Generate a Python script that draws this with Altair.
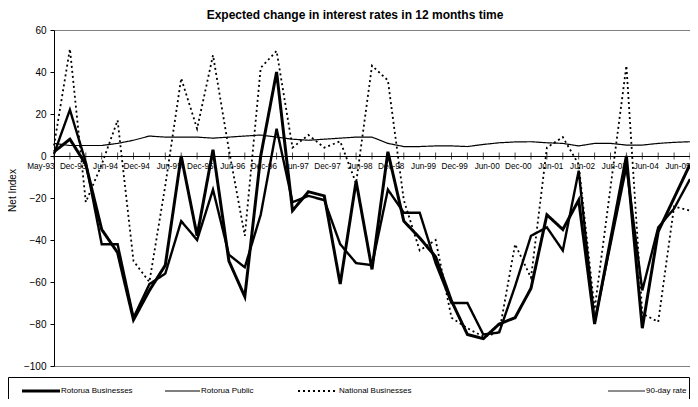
import altair as alt
import pandas as pd

periods = ["May-93","Sep-93","Dec-93","Mar-94","Jun-94","Sep-94","Dec-94","Mar-95","Jun-95","Sep-95",
           "Dec-95","Mar-96","Jun-96","Sep-96","Dec-96","Mar-97","Jun-97","Sep-97","Dec-97","Mar-98",
           "Jun-98","Sep-98","Dec-98","Mar-99","Jun-99","Sep-99","Dec-99","Mar-00","Jun-00","Sep-00",
           "Dec-00","Mar-01","Jun-01","Dec-01","Jun-02","Dec-02","Jun-03","Dec-03","Jun-04","Dec-04","Jun-05"]

tick_labels = ["May-93","Dec-93","Jun-94","Dec-94","Jun-95","Dec-95","Jun-96","Dec-96","Jun-97","Dec-97",
               "Jun-98","Dec-98","Jun-99","Dec-99","Jun-00","Dec-00","Jun-01","Jun-02","Jun-03","Jun-04","Jun-05"]

y_ticks = [60, 40, 20, 0, -20, -40, -60, -80, -100]

series_names = ["Rotorua Businesses", "Rotorua Public", "National Businesses", "90-day rate"]

rotorua_businesses = [2, 8, -4, -35, -46, -78, -64, -52, 0, -38,
                      3, -50, -67, 0, 40, -26, -17, -19, -61, -12,
                      -54, 2, -31, -39, -48, -69, -85, -87, -80, -77,
                      -63, -28, -35, -21, -80, -40, 0, -82, -36, -20, -4]

rotorua_public = [1, 22, -3, -42, -42, -77, -61, -56, -31, -40,
                  -16, -47, -53, -28, 13, -22, -19, -21, -42, -51,
                  -52, -16, -27, -27, -51, -70, -70, -85, -84, -62,
                  -38, -34, -45, -7, -79, -42, -5, -64, -34, -25, -11]

national_businesses = [5, 51, -22, -4, 17, -50, -60, -14, 37, 13,
                       48, 3, -38, 42, 50, 4, 10, 4, 7, -13,
                       43, 36, -21, -45, -40, -77, -82, -86, -84, -42,
                       -58, 4, 9, -4, -73, -15, 43, -75, -79, -24, -26]

rate_90day = [6, 5, 5, 5, 6, 7.5, 9.5, 9, 9, 9,
              8.5, 9, 9.5, 10, 9, 8, 7.5, 8, 8.5, 9,
              9, 6, 4.5, 4.5, 4.8, 4.8, 4.5, 5.5, 6.3, 6.7,
              6.8, 6.3, 6, 4.8, 6, 6, 5.2, 5.2, 6, 6.5, 6.8]

rows = []
for name, vals in zip(series_names, [rotorua_businesses, rotorua_public, national_businesses, rate_90day]):
    for p, v in zip(periods, vals):
        rows.append({"period": p, "series": name, "value": v})
df = pd.DataFrame(rows)
ticks_df = pd.DataFrame({"period": periods})
one = pd.DataFrame({"k": [0]})

FONT = "Liberation Sans"

x_enc = alt.X("period:O", sort=periods,
              scale=alt.Scale(type="point", padding=0),
              axis=alt.Axis(values=tick_labels, title=None, labelAngle=0, labelOverlap=False,
                            ticks=False, tickSize=0, labelPadding=10, offset=-210,
                            domainColor="black", domainWidth=1, grid=False,
                            labelFont=FONT, labelFontSize=8.2, labelColor="black"))
y_enc = alt.Y("value:Q",
              scale=alt.Scale(domain=[-100, 60], nice=False, zero=False),
              axis=alt.Axis(values=y_ticks, title="Net Index", grid=False, tickSize=4, labelPadding=4,
                            domainColor="black", tickColor="black", labelColor="black",
                            labelFont=FONT, labelFontSize=10,
                            titleFont=FONT, titleFontSize=10, titleFontWeight="normal", titleColor="black",
                            titleX=-42, titleY=160, titleAlign="center", titleBaseline="middle", titleAngle=270))

lines = alt.Chart(df).mark_line(color="black", strokeJoin="miter").encode(
    x=x_enc,
    y=y_enc,
    detail="series:N",
    strokeWidth=alt.StrokeWidth("series:N", scale=alt.Scale(domain=series_names, range=[3, 1.2, 2, 0.9]), legend=None),
    strokeDash=alt.StrokeDash("series:N", scale=alt.Scale(domain=series_names, range=[[1, 0], [1, 0], [2, 3], [1, 0]]), legend=None),
)

xticks = alt.Chart(ticks_df).mark_tick(orient="vertical", size=7, thickness=1, color="black").encode(
    x=alt.X("period:O", sort=periods),
    y=alt.datum(0),
)

# legend (drawn below the plot)
leg_y = 361
legend_layers = [
    alt.Chart(one).mark_rect(fillOpacity=0, stroke="black", strokeWidth=1).encode(
        x=alt.value(-45.5), x2=alt.value(635.5), y=alt.value(347.5), y2=alt.value(420)),
]
legend_items = [
    ("Rotorua Businesses", -32, 6, 3, [1, 0]),
    ("Rotorua Public", 111, 146, 1.2, [1, 0]),
    ("National Businesses", 244, 284, 2, [2, 3]),
    ("90-day rate", 554, 591, 0.9, [1, 0]),
]
for label, x1, x2, w, dash in legend_items:
    legend_layers.append(
        alt.Chart(one).mark_rule(color="black", strokeWidth=w, strokeDash=dash).encode(
            x=alt.value(x1), x2=alt.value(x2), y=alt.value(leg_y)))
    legend_layers.append(
        alt.Chart(one).mark_text(text=label, align="left", baseline="middle", font=FONT,
                                 fontSize=8, color="black").encode(
            x=alt.value(x2 + 1), y=alt.value(leg_y)))

chart = alt.layer(xticks, lines, *legend_layers).properties(
    width=636, height=336,
    autosize=alt.AutoSizeParams(type="none"),
    padding={"left": 46, "top": 22, "right": 0, "bottom": 33},
    title=alt.TitleParams("Expected change in interest rates in 12 months time",
                          font=FONT, fontSize=12, fontWeight="bold", color="black",
                          anchor="middle", dx=-17, offset=3),
).configure_view(stroke="#808080", strokeWidth=1)

chart.save("out.html", embed_options={"renderer": "svg", "actions": False})
